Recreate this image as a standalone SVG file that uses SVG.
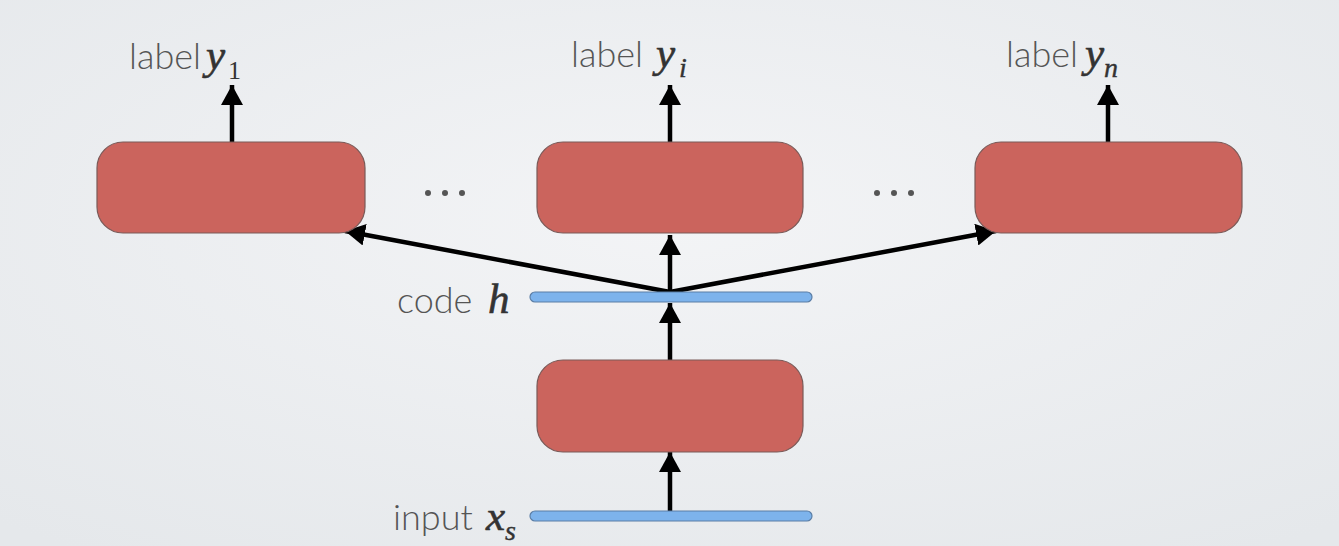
<svg xmlns="http://www.w3.org/2000/svg" width="1339" height="546" viewBox="0 0 1339 546">
  <defs>
    <radialGradient id="bg" cx="50%" cy="40%" r="75%">
      <stop offset="0" stop-color="#f3f4f6"/>
      <stop offset="1" stop-color="#e5e8eb"/>
    </radialGradient>
    <marker id="ah" markerUnits="userSpaceOnUse" markerWidth="22" markerHeight="22" refX="20" refY="11" orient="auto">
      <path d="M0,0 L20,11 L0,22 Z" fill="#000"/>
    </marker>
    <style>
      .box { fill: #cb645d; stroke: #7a5a58; stroke-width: 1.2; }
      .bar { fill: #7db3ec; stroke: #5b7ea6; stroke-width: 1.2; }
      .conn { stroke: #000; stroke-width: 4.5; fill: none; marker-end: url(#ah); }
      .lbl { font-family: Lato, "Open Sans", sans-serif; font-weight: 300; font-size: 36px; fill: #555555; }
      .math { font-family: "Liberation Serif", "DejaVu Serif", serif; font-style: italic; font-size: 43px; fill: #333333; stroke: #333333; stroke-width: 0.6; }
      .sub { font-family: "Liberation Serif", "DejaVu Serif", serif; font-size: 26px; fill: #333333; }
      .subi { font-family: "Liberation Serif", "DejaVu Serif", serif; font-style: italic; font-size: 28px; fill: #333333; stroke: #333333; stroke-width: 0.4; }
      .dot { fill: #555; }
    </style>
  </defs>
  <rect width="1339" height="546" fill="url(#bg)"/>

  <g id="connectors">
    <line class="conn" x1="232" y1="142" x2="232" y2="85"/>
    <line class="conn" x1="670" y1="142" x2="670" y2="85"/>
    <line class="conn" x1="1108" y1="142" x2="1108" y2="85"/>
    <line class="conn" x1="670" y1="293" x2="670" y2="235"/>
    <line class="conn" x1="670" y1="292" x2="345" y2="231"/>
    <line class="conn" x1="670" y1="292" x2="996" y2="231"/>
    <line class="conn" x1="670" y1="360" x2="670" y2="303"/>
    <line class="conn" x1="670" y1="511" x2="670" y2="452"/>
  </g>

  <g id="node-out1">
    <rect class="box" x="97" y="142" width="268" height="91" rx="26"/>
  </g>
  <g id="node-outi">
    <rect class="box" x="537" y="142" width="266" height="91" rx="26"/>
  </g>
  <g id="node-outn">
    <rect class="box" x="975" y="142" width="267" height="91" rx="26"/>
  </g>
  <g id="node-enc">
    <rect class="box" x="537" y="360" width="266" height="92" rx="26"/>
  </g>
  <g id="node-code">
    <rect class="bar" x="530" y="292" width="282" height="10" rx="5"/>
    <text class="lbl" x="397" y="313">code</text>
    <text class="math" x="488" y="313">h</text>
  </g>
  <g id="node-input">
    <rect class="bar" x="530" y="511" width="282" height="10" rx="5"/>
    <text class="lbl" x="393" y="530">input</text>
    <text class="math" x="486" y="530">x</text>
    <text class="subi" x="505" y="540">s</text>
  </g>

  <g id="label-y1">
    <text class="lbl" x="129" y="69">label</text>
    <text class="math" x="206" y="69">y</text>
    <text class="sub" x="228" y="79">1</text>
  </g>
  <g id="label-yi">
    <text class="lbl" x="571" y="67">label</text>
    <text class="math" x="656" y="67">y</text>
    <text class="subi" x="679" y="77">i</text>
  </g>
  <g id="label-yn">
    <text class="lbl" x="1006" y="67">label</text>
    <text class="math" x="1085" y="67">y</text>
    <text class="subi" x="1104" y="77">n</text>
  </g>

  <g id="dots-left">
    <circle class="dot" cx="428" cy="193" r="3"/>
    <circle class="dot" cx="445" cy="193" r="3"/>
    <circle class="dot" cx="462" cy="193" r="3"/>
  </g>
  <g id="dots-right">
    <circle class="dot" cx="877" cy="193" r="3"/>
    <circle class="dot" cx="894" cy="193" r="3"/>
    <circle class="dot" cx="911" cy="193" r="3"/>
  </g>
</svg>
